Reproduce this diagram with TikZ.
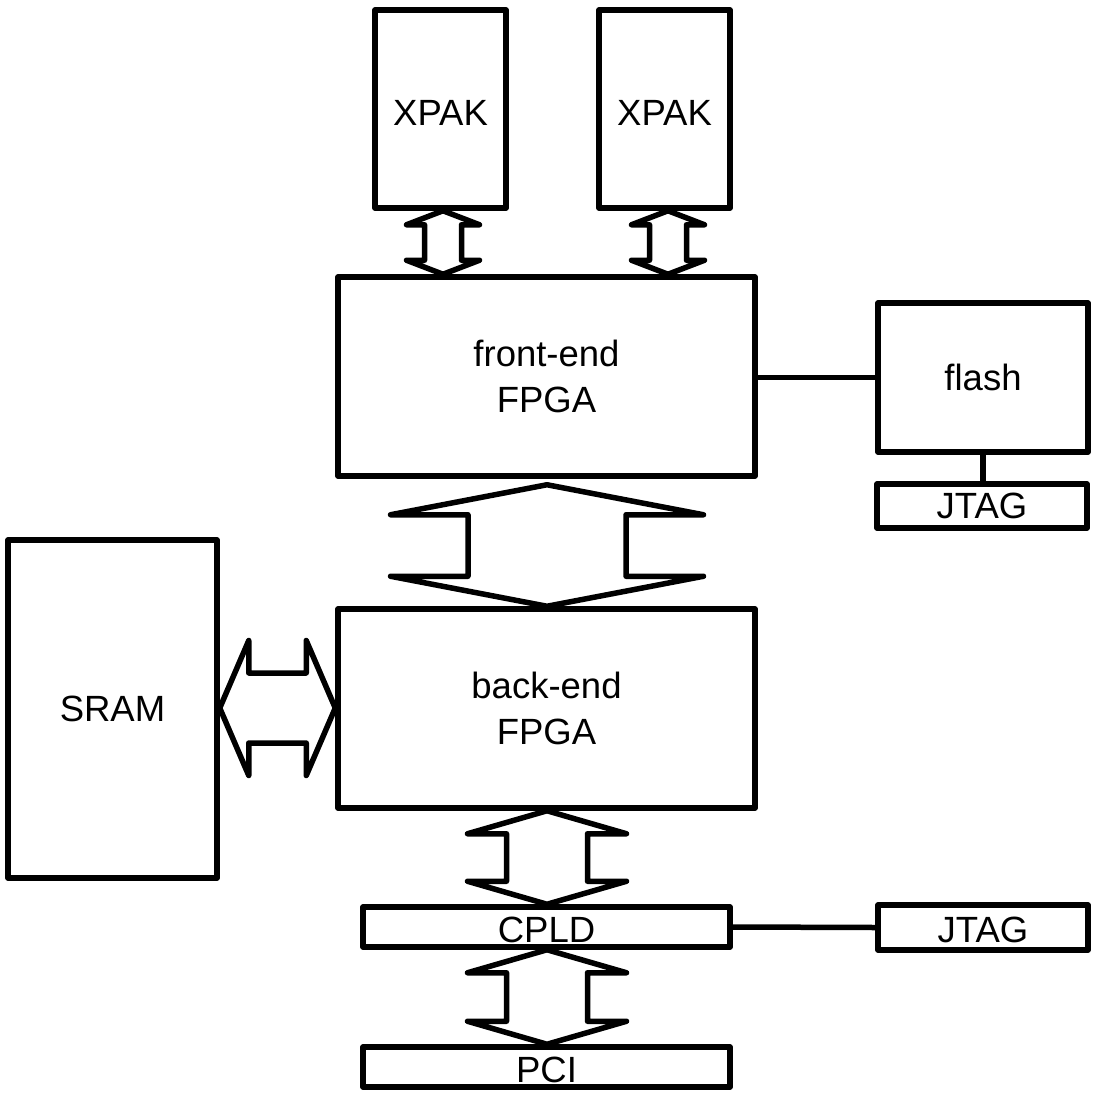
\documentclass[tikz,border=0pt]{standalone}
\usepackage{fontspec}
\setmainfont{Liberation Sans}
\usetikzlibrary{calc}
\tikzset{
  box/.style={draw, line width=5.5pt, line join=round, inner sep=0pt, align=center,
    font=\fontsize{36.5}{46}\selectfont},
  blockarrow/.style={draw, line width=5.5pt, line join=round, line cap=round},
  wire/.style={draw, line width=5.5pt}
}
\newcommand\lowtext[2]{\raisebox{-#1pt}[\height][0pt]{#2}}
\newcommand\vdarrow[5]{%
  \draw[blockarrow] let \p1=(#1), \p2=(#2) in
  (\p1) -- (\x1+#3pt,\y1-#5pt) -- (\x1+#4pt,\y1-#5pt) -- (\x2+#4pt,\y2+#5pt)
  -- (\x2+#3pt,\y2+#5pt) -- (\p2) -- (\x2-#3pt,\y2+#5pt) -- (\x2-#4pt,\y2+#5pt)
  -- (\x1-#4pt,\y1-#5pt) -- (\x1-#3pt,\y1-#5pt) -- cycle;}
\newcommand\hdarrow[5]{%
  \draw[blockarrow] let \p1=(#1), \p2=(#2) in
  (\p1) -- (\x1+#5pt,\y1+#3pt) -- (\x1+#5pt,\y1+#4pt) -- (\x2-#5pt,\y2+#4pt)
  -- (\x2-#5pt,\y2+#3pt) -- (\p2) -- (\x2-#5pt,\y2-#3pt) -- (\x2-#5pt,\y2-#4pt)
  -- (\x1+#5pt,\y1-#4pt) -- (\x1+#5pt,\y1-#3pt) -- cycle;}
\begin{document}
\begin{tikzpicture}[x=1pt, y=-1pt]
\useasboundingbox (0,0) rectangle (1095,1095);
% boxes
\node[box, minimum width=131pt, minimum height=198pt] (xpak1) at (440.5,109) {\lowtext{4}{XPAK}};
\node[box, minimum width=131pt, minimum height=198pt] (xpak2) at (664.5,109) {\lowtext{4}{XPAK}};
\node[box, minimum width=417pt, minimum height=199pt] (fe) at (546.5,376.5) {front-end\\FPGA};
\node[box, minimum width=417pt, minimum height=199pt] (be) at (546.5,708.5) {back-end\\FPGA};
\node[box, minimum width=209pt, minimum height=338pt] (sram) at (112.5,709) {SRAM};
\node[box, minimum width=210pt, minimum height=149pt] (flash) at (983,377.5) {flash};
\node[box, minimum width=210pt, minimum height=44pt] (jtag1) at (982,506) {JTAG};
\node[box, minimum width=210pt, minimum height=45pt] (jtag2) at (983,927.5) {\lowtext{2.5}{JTAG}};
\node[box, minimum width=367pt, minimum height=40pt] (cpld) at (546.5,927) {\lowtext{2.5}{CPLD}};
\node[box, minimum width=367pt, minimum height=40pt] (pci) at (546.5,1067) {\lowtext{2.5}{PCI}};
% arrow end points
\coordinate (a1t) at (443,0 |- xpak1.south);
\coordinate (a1b) at (443,0 |- fe.north);
\coordinate (a2t) at (668,0 |- xpak2.south);
\coordinate (a2b) at (668,0 |- fe.north);
\coordinate (a3t) at ($(547,0 |- fe.south)+(0,6)$);
\coordinate (a3b) at (547,0 |- be.north);
\coordinate (a4t) at (547,0 |- be.south);
\coordinate (a4b) at (547,0 |- cpld.north);
\coordinate (a5t) at (547,0 |- cpld.south);
\coordinate (a5b) at (547,0 |- pci.north);
\coordinate (a6l) at (sram.east |- 0,708);
\coordinate (a6r) at (be.west |- 0,708);
% block arrows
\vdarrow{a1t}{a1b}{36.5}{18.5}{14}
\vdarrow{a2t}{a2b}{36.5}{18.5}{14}
\vdarrow{a3t}{a3b}{156.5}{79}{30}
\vdarrow{a4t}{a4b}{79.5}{40.5}{23}
\vdarrow{a5t}{a5b}{79.5}{40.5}{23}
\hdarrow{a6l}{a6r}{67.5}{35}{29}
% wires
\draw[wire] (fe.east |- flash.west) -- (flash.west);
\draw[wire] (flash.south) -- (flash.south |- jtag1.north);
\draw[wire] (cpld.east) -- (jtag2.west);
\end{tikzpicture}
\end{document}
